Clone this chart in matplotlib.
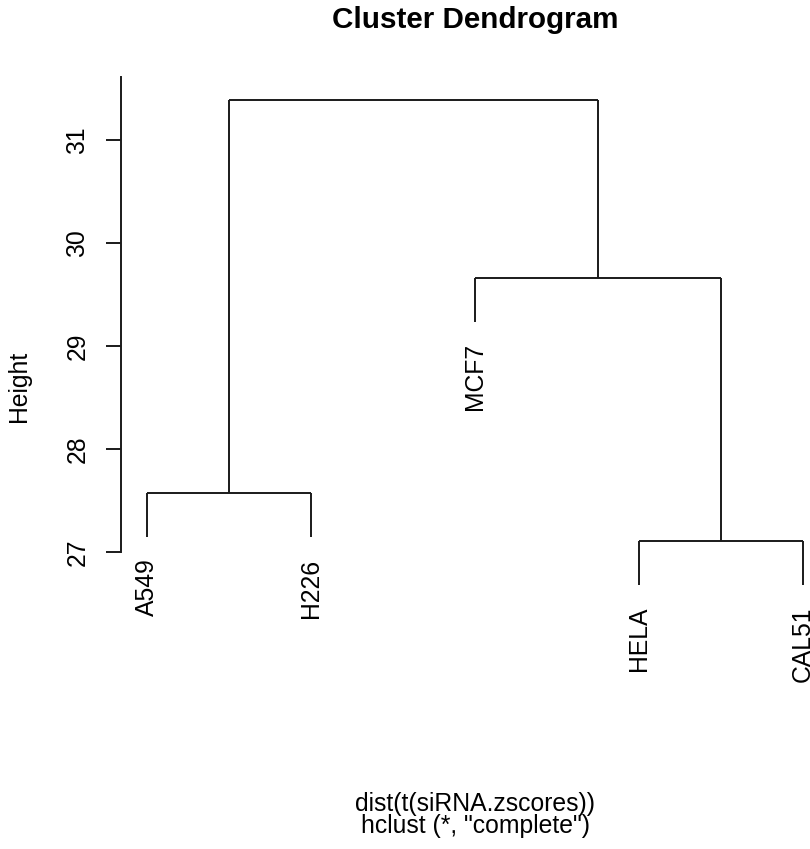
import matplotlib
matplotlib.use("Agg")
import matplotlib.pyplot as plt
from matplotlib.transforms import offset_copy

plt.rcParams['font.family'] = ['Liberation Sans', 'DejaVu Sans']

# ---- data ----
leaf_labels = ['A549', 'H226', 'MCF7', 'HELA', 'CAL51']   # display order
# merges: (left child, right child, height); negative = leaf index (1-based), positive = earlier merge (1-based)
merge_left = [-1, -4, -3, 1]
merge_right = [-2, -5, 2, 3]
merge_height = [27.57, 27.107, 29.66, 31.39]
y_ticks = [27, 28, 29, 30, 31]
hang = 0.1

title = "Cluster Dendrogram"
xlab_line1 = "dist(t(siRNA.zscores))"
xlab_line2 = 'hclust (*, "complete")'
ylab = "Height"

W, H, DPI = 810, 849, 100
fig = plt.figure(figsize=(W / DPI, H / DPI), dpi=DPI)

# axes box in pixels
px_left, px_right, px_top, px_bottom = 121, 829, 60, 640
ax = fig.add_axes([px_left / W, 1 - px_bottom / H, (px_right - px_left) / W, (px_bottom - px_top) / H])
ax.set_xlim(0.8415, 5.159)
ax.set_ylim(26.146, 31.777)

col = '#1a1a1a'
lw = 1.4
n = len(leaf_labels)
hrange = max(merge_height) - min(merge_height)
hang_len = hang * hrange

node_x = {}
for i in range(n):
    node_x[-(i + 1)] = i + 1

def node_top(k):
    return merge_height[k - 1] if k > 0 else None

for j, (l, r, h) in enumerate(zip(merge_left, merge_right, merge_height)):
    xl, xr = node_x[l], node_x[r]
    ax.plot([xl, xr], [h, h], color=col, lw=lw, solid_capstyle='butt')
    for c, xc in ((l, xl), (r, xr)):
        if c < 0:
            bottom = h - hang_len
            ax.plot([xc, xc], [h, bottom], color=col, lw=lw, solid_capstyle='butt')
            tr = offset_copy(ax.transData, fig=fig, x=0, y=-21, units='dots')
            ax.text(xc, bottom, leaf_labels[-c - 1], rotation=90, ha='center', va='top',
                    fontsize=17.8, color='black', transform=tr)
        else:
            ax.plot([xc, xc], [h, merge_height[c - 1]], color=col, lw=lw, solid_capstyle='butt')
    node_x[j + 1] = (xl + xr) / 2

for s in ['top', 'right', 'bottom']:
    ax.spines[s].set_visible(False)
ax.spines['left'].set_bounds(27, 31.61)
ax.spines['left'].set_linewidth(lw)
ax.spines['left'].set_color(col)
ax.set_xticks([])
ax.set_yticks(y_ticks)
ax.set_yticklabels([str(t) for t in y_ticks], rotation=90, va='center', fontsize=17.8)
ax.tick_params(axis='y', length=10.8, width=lw, color=col, pad=12)

fig.text(475 / W, 1 - 28 / H, title, ha='center', va='baseline', fontsize=21.3, fontweight='bold')
fig.text(475 / W, 1 - 804 / H, xlab_line1, ha='center', va='center', fontsize=17.8)
fig.text(475 / W, 1 - 826 / H, xlab_line2, ha='center', va='center', fontsize=17.8)
fig.text(19 / W, 1 - 386 / H, ylab, ha='center', va='center', rotation=90, fontsize=17.8)

fig.savefig('out.png', dpi=DPI)
